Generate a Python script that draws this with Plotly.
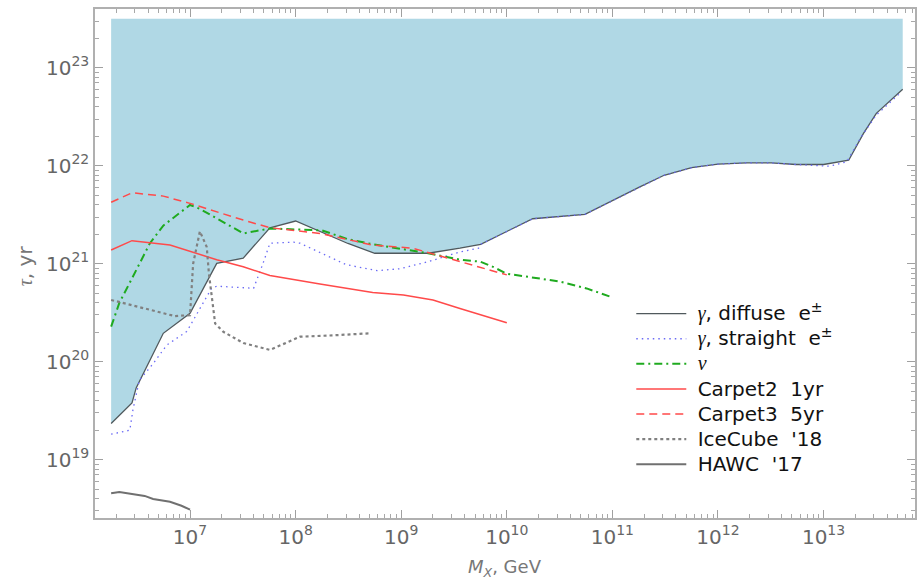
import plotly.graph_objects as go

# ---------------- data (M_X in GeV, tau in yr) ----------------
diffuse_m = [1.79e6, 2.82e6, 3.09e6, 4.17e6, 5.58e6, 1.0e7, 1.79e7, 3.19e7, 5.71e7, 1.0e8,
             3.13e8, 5.62e8, 1.8e9, 3.6e9, 5.66e9, 1.76e10, 5.5e10, 1.82e11, 3.09e11, 5.62e11,
             1.0e12, 1.86e12, 3.2e12, 5.5e12, 1.0e13, 1.73e13, 2.39e13, 3.16e13, 5.62e13]
diffuse_tau = [2.34e19, 3.8e19, 5.4e19, 1.05e20, 1.95e20, 3.12e20, 1.01e21, 1.14e21, 2.33e21, 2.73e21,
               1.61e21, 1.28e21, 1.28e21, 1.44e21, 1.58e21, 2.88e21, 3.19e21, 6.1e21, 8.0e21, 9.55e21,
               1.04e22, 1.07e22, 1.07e22, 1.03e22, 1.03e22, 1.14e22, 2.14e22, 3.43e22, 6.03e22]

straight_m = [1.79e6, 2.69e6, 2.88e6, 3.31e6, 4.47e6, 6.03e6, 9.33e6, 1.29e7, 1.6e7, 1.79e7,
              4.0e7, 4.9e7, 5.71e7, 9.55e7, 1.1e8, 3.0e8, 5.9e8, 9.8e8, 1.8e9, 3.6e9, 5.4e9, 5.66e9,
              1.76e10, 5.5e10, 1.82e11, 3.09e11, 5.62e11, 1.0e12, 1.86e12, 3.2e12, 5.5e12,
              1.15e13, 1.66e13, 2.29e13, 3.16e13, 5.5e13]
straight_tau = [1.82e19, 2.0e19, 3.24e19, 6.46e19, 9.55e19, 1.48e20, 2.04e20, 3.8e20, 5.62e20, 5.9e20,
                5.62e20, 1.0e21, 1.62e21, 1.66e21, 1.62e21, 9.8e20, 8.5e20, 8.9e20, 1.05e21, 1.32e21, 1.44e21, 1.58e21,
                2.88e21, 3.19e21, 6.1e21, 8.0e21, 9.55e21, 1.04e22, 1.07e22, 1.07e22, 1.03e22,
                9.9e21, 1.1e22, 2.0e22, 3.3e22, 5.7e22]

nu_m = [1.79e6, 2.14e6, 2.88e6, 4.17e6, 5.58e6, 1.0e7, 1.24e7, 3.2e7, 5.71e7, 1.1e8,
        1.78e8, 3.13e8, 5.37e8, 1.8e9, 3.6e9, 5.6e9, 7.4e9, 1.0e10, 3.16e10, 5.7e10, 9.8e10]
nu_tau = [2.28e20, 3.98e20, 7.4e20, 1.62e21, 2.45e21, 3.98e21, 3.63e21, 2.04e21, 2.29e21, 2.24e21,
          2.19e21, 1.78e21, 1.58e21, 1.28e21, 1.1e21, 1.05e21, 9.3e20, 7.9e20, 6.6e20, 5.6e20, 4.57e20]

carpet2_m = [1.79e6, 2.82e6, 6.46e6, 1.79e7, 3.19e7, 5.71e7, 1.7e8, 5.37e8, 1.05e9, 2.0e9, 3.6e9, 1.0e10]
carpet2_tau = [1.38e21, 1.72e21, 1.55e21, 1.1e21, 9.3e20, 7.6e20, 6.2e20, 5.1e20, 4.8e20, 4.27e20, 3.5e20, 2.5e20]

carpet3_m = [1.79e6, 2.82e6, 5.58e6, 1.0e7, 3.19e7, 5.71e7, 1.7e8, 5.37e8, 1.29e9, 3.6e9, 1.0e10]
carpet3_tau = [4.24e21, 5.3e21, 4.9e21, 4.13e21, 2.79e21, 2.33e21, 2.04e21, 1.55e21, 1.44e21, 1.05e21, 7.7e20]

icecube_m = [1.79e6, 2.14e6, 4.17e6, 7.2e6, 1.0e7, 1.07e7, 1.24e7, 1.44e7, 1.51e7, 1.6e7,
             1.73e7, 2.07e7, 3.2e7, 5.71e7, 1.1e8, 2.29e8, 5.0e8]
icecube_tau = [4.27e20, 4.07e20, 3.43e20, 2.92e20, 2.99e20, 1.0e21, 2.14e21, 1.48e21, 7.9e20, 4.57e20,
               2.45e20, 2.02e20, 1.55e20, 1.32e20, 1.8e20, 1.86e20, 1.95e20]

hawc_m = [1.79e6, 2.14e6, 3.72e6, 4.47e6, 6.46e6, 8.3e6, 1.0e7]
hawc_tau = [4.54e18, 4.68e18, 4.27e18, 3.98e18, 3.72e18, 3.39e18, 3.09e18]

fill_top_tau = 3.16e23

x_tick_exps = [7, 8, 9, 10, 11, 12, 13]
y_tick_exps = [19, 20, 21, 22, 23]
x_range_log = [6.1, 13.866]
y_range_log = [18.405, 23.6]

# minor tick positions (2..9 x each decade)
minor_digits = [2, 3, 4, 5, 6, 7, 8, 9]
x_minor = [d * 10.0 ** e for e in range(6, 14) for d in minor_digits]
y_minor = [d * 10.0 ** e for e in range(18, 24) for d in minor_digits]

# ---------------- figure ----------------
fig = go.Figure()

fill_x = diffuse_m + [diffuse_m[-1], diffuse_m[0]]
fill_y = diffuse_tau + [fill_top_tau, fill_top_tau]
fig.add_trace(go.Scatter(x=fill_x, y=fill_y, fill="toself", fillcolor="#b0d8e5",
                         line=dict(width=0), mode="lines", showlegend=False, hoverinfo="skip"))

serif = "font-family:'Liberation Serif',serif;font-style:italic"
big = "font-size:20px"


def lab(s):
    return f"<span style=\"{big}\">\u00a0{s}</span>"


fig.add_trace(go.Scatter(x=diffuse_m, y=diffuse_tau, mode="lines",
                         line=dict(color="#50595d", width=1.3),
                         name=lab(f"<span style=\"{serif}\">γ</span>, diffuse  e<sup>±</sup>")))
fig.add_trace(go.Scatter(x=straight_m, y=straight_tau, mode="lines",
                         line=dict(color="#6a6af5", width=1.3, dash="1.5px,4px"),
                         name=lab(f"<span style=\"{serif}\">γ</span>, straight  e<sup>±</sup>")))
fig.add_trace(go.Scatter(x=nu_m, y=nu_tau, mode="lines",
                         line=dict(color="#1faa1f", width=2, dash="8px,4px,2px,4px"),
                         name=lab(f"<span style=\"{serif}\">ν</span>")))
fig.add_trace(go.Scatter(x=carpet2_m, y=carpet2_tau, mode="lines",
                         line=dict(color="#ff4a4a", width=1.5),
                         name=lab("Carpet2  1yr")))
fig.add_trace(go.Scatter(x=carpet3_m, y=carpet3_tau, mode="lines",
                         line=dict(color="#ff4a4a", width=1.5, dash="8px,5px"),
                         name=lab("Carpet3  5yr")))
fig.add_trace(go.Scatter(x=icecube_m, y=icecube_tau, mode="lines",
                         line=dict(color="#808080", width=2.2, dash="3px,3px"),
                         name=lab("IceCube  '18")))
fig.add_trace(go.Scatter(x=hawc_m, y=hawc_tau, mode="lines",
                         line=dict(color="#707070", width=2),
                         name=lab("HAWC  '17")))

tick_font = dict(family="DejaVu Sans", size=20, color="#666666")
common_axis = dict(type="log", showgrid=False, zeroline=False, showline=True,
                   linecolor="#b0b0b0", linewidth=1.5, mirror="ticks",
                   ticks="inside", ticklen=8, tickcolor="#a0a0a0", tickwidth=1,
                   tickfont=tick_font, automargin=False)

minor_axis = dict(type="log", showgrid=False, zeroline=False, showline=False,
                  mirror="ticks", ticks="inside", ticklen=4, tickcolor="#a8a8a8",
                  tickwidth=1, showticklabels=False, automargin=False)

fig.update_layout(
    width=917, height=580,
    margin=dict(l=95, r=2, t=9, b=62),
    paper_bgcolor="white", plot_bgcolor="white",
    font=dict(family="DejaVu Sans"),
    xaxis=dict(**common_axis, range=x_range_log,
               tickvals=[10.0 ** e for e in x_tick_exps],
               ticktext=[f"10<sup>{e}</sup>" for e in x_tick_exps]),
    yaxis=dict(**common_axis, range=y_range_log,
               tickvals=[10.0 ** e for e in y_tick_exps],
               ticktext=[f"10<sup>{e}</sup>" for e in y_tick_exps]),
    xaxis2=dict(**minor_axis, range=x_range_log, overlaying="x", anchor="y", side="bottom",
                tickvals=x_minor),
    yaxis2=dict(**minor_axis, range=y_range_log, overlaying="y", anchor="x", side="left",
                tickvals=y_minor),
    legend=dict(x=0.654, y=0.436, xanchor="left", yanchor="top",
                bgcolor="rgba(0,0,0,0)", borderwidth=0,
                font=dict(family="DejaVu Sans", size=17, color="#111111"),
                itemwidth=50, tracegroupgap=0),
    annotations=[
        dict(text="<i>M<sub>X</sub></i>, GeV", xref="paper", yref="paper", x=0.5, y=-0.098,
             xanchor="center", yanchor="middle", showarrow=False,
             font=dict(family="DejaVu Sans", size=18, color="#777777")),
        dict(text=f"<span style=\"{serif}\">τ</span>, yr", xref="paper", yref="paper",
             x=-0.085, y=0.495, xanchor="center", yanchor="middle", showarrow=False,
             textangle=-90, font=dict(family="DejaVu Sans", size=20, color="#777777")),
    ],
)

# invisible trace so the minor-tick axes are drawn
fig.add_trace(go.Scatter(x=[diffuse_m[0]], y=[diffuse_tau[0]], xaxis="x2", yaxis="y2",
                         mode="markers", marker=dict(opacity=0), showlegend=False, hoverinfo="skip"))

fig.write_html("out.html", config={"displayModeBar": False},
               post_script="document.body.style.margin='0px';")
